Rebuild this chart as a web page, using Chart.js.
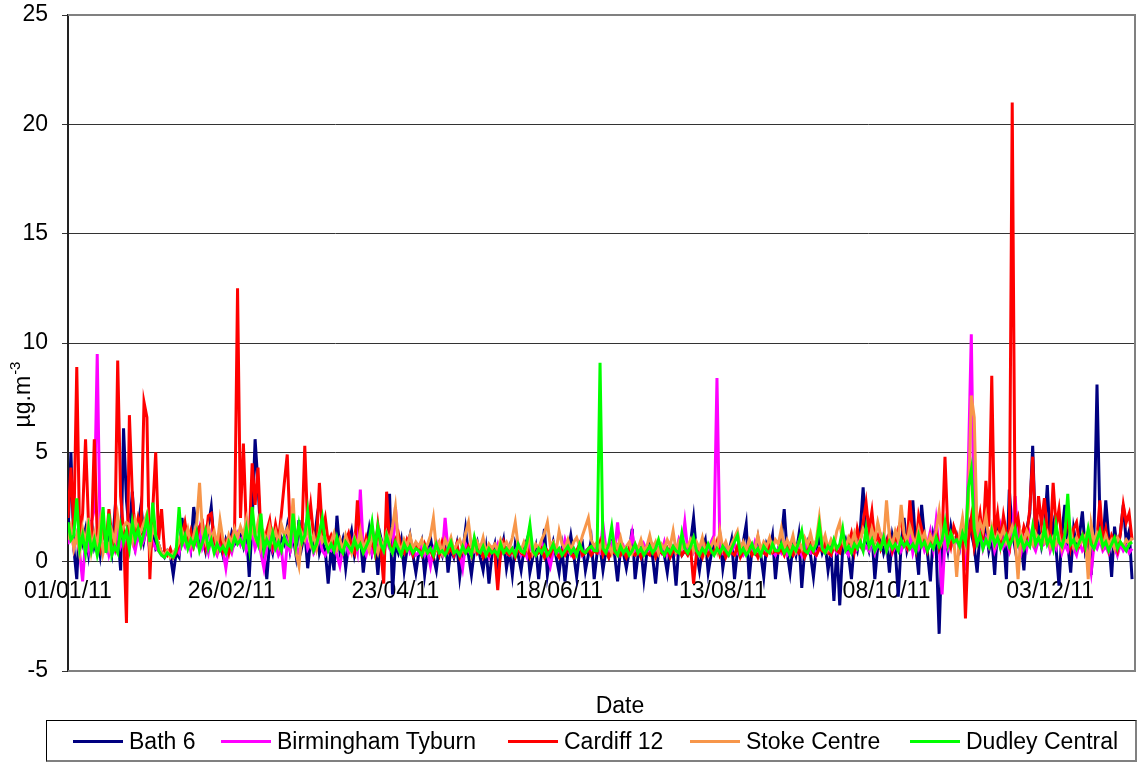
<!DOCTYPE html>
<html>
<head>
<meta charset="utf-8">
<title>Daily concentrations 2011</title>
<script src="https://cdn.jsdelivr.net/npm/chart.js@4.4.1/dist/chart.umd.min.js"></script>
<style>
  body { margin: 0; background: #fff; }
  #wrap { position: relative; width: 1137px; height: 765px; font-family: Arial, "Liberation Sans", sans-serif; }
  #chart { display: block; }
  #legend { position: absolute; left: 46px; top: 720px; width: 1091px; height: 42px;
            border: 1px solid #000; border-right: 2px solid #808080; border-bottom: 2px solid #808080; box-sizing: border-box; }
  .item { position: absolute; top: 0; height: 40px; display: flex; align-items: center; font-size: 23px; color: #000; white-space: nowrap; }
  .item span.swatch { display: inline-block; width: 50px; height: 3px; margin-right: 6px; }
</style>
</head>
<body>
<div id="wrap">
  <canvas id="chart" width="1137" height="765"></canvas>
  <div id="legend"></div>
</div>
<script>
// x axis: days since 01/01/11
const tickDays = [0, 56, 112, 168, 224, 280, 336];
const tickLabels = ['01/01/11', '26/02/11', '23/04/11', '18/06/11', '13/08/11', '08/10/11', '03/12/11'];
const seriesNames = ['Bath 6', 'Birmingham Tyburn', 'Cardiff 12', 'Stoke Centre', 'Dudley Central'];
const seriesColors = ['#000080', '#ff00ff', '#ff0000', '#f7964a', '#00ff00'];

// daily values, one line per month (Jan..Dec)
const bath6 = [
  1.2, 5.0, 0.6, -0.8, 2.0, 0.9, 1.5, 0.4, 1.9, 0.7, 1.2, 0.3, 1.6, 0.8, 1.1, 0.4, 2.2, 1.4, -0.4, 6.1, 2.8, 1.3, 3.2, 0.9, 1.7, 2.6, 1.0, 1.8, 0.5, 1.4, 0.6,
  0.8, 0.4, 0.2, 0.5, 0.3, -0.6, 0.4, 0.2, 2.0, 0.9, 1.2, 0.6, 2.5, 1.4, 0.7, 1.1, 0.5, 1.6, 2.5, 0.8, 0.4, 0.9, 0.3, 1.0, 0.6, 1.3, 0.8, 1.0,
  1.2, 0.7, 1.5, -0.7, 1.8, 5.6, 3.5, 1.0, 0.5, -0.8, 0.9, 0.4, 1.3, 0.6, 1.1, 0.8, 1.6, 0.5, 1.2, 0.3, 1.9, 0.7, 1.4, -0.3, 1.0, 0.6, 1.8, 0.4, 0.9, 0.5, -1.0,
  0.6, -0.4, 2.1, 0.5, 1.0, -0.3, 0.8, 1.4, 0.3, 0.9, 1.2, -0.5, 0.7, 1.5, 0.4, 0.9, -0.6, 1.1, 0.5, 1.3, 3.1, -1.5, 0.8, 0.4, 1.0, -0.4, 0.6, 1.2, 0.3, -0.5,
  0.4, 0.9, -0.6, 0.5, 1.1, 0.2, -0.4, 0.7, 0.3, 1.3, -0.5, 0.6, 0.2, 0.8, -0.7, 0.4, 1.5, 0.3, -0.6, 0.5, 0.9, 0.2, -0.4, 0.6, -1.0, 0.3, 0.8, -0.5, 0.4, 1.0, -0.3,
  0.5, -0.6, 0.8, 0.3, -0.4, 0.6, 1.0, -0.5, 0.2, 0.7, -0.8, 0.4, 1.5, -0.6, 0.3, 0.9, 0.2, -0.5, 0.6, -0.9, 0.4, 1.2, 0.3, -0.7, 0.5, 0.8, -0.4, 0.3, 1.0, -0.8,
  0.4, 0.7, -0.4, 0.5, 0.2, 0.8, 0.3, -0.9, 0.6, 0.4, -0.3, 0.5, 1.5, -0.8, 0.3, 0.6, -0.8, 0.4, 0.9, 0.2, -1.0, 0.5, 0.7, 0.3, -0.5, 0.6, 0.4, -1.1, 0.8, 0.3, 0.5,
  0.5, 0.9, 2.0, 0.4, -0.4, 0.6, 1.0, -0.5, 0.3, 0.8, 0.5, 1.2, -0.3, 0.6, 0.4, 1.0, -0.8, 0.5, 0.3, 0.9, 1.7, -0.8, 0.6, 0.4, 1.1, 0.3, -0.7, 0.8, 0.5, 1.2, -0.8,
  0.6, 1.0, 2.4, 0.4, -0.5, 0.8, 0.3, 1.2, -1.2, 0.5, 0.9, 0.3, -0.7, 0.6, 1.1, 0.4, 0.8, -0.4, 0.5, -1.8, 0.7, -2.0, 0.6, 1.0, 0.3, -0.8, 0.9, 0.5, 1.4, 3.4,
  1.0, 0.5, 1.3, -0.8, 0.7, 1.1, 0.4, 0.9, -0.5, 1.2, 0.6, -1.6, 0.8, 2.0, 0.5, 1.0, 2.8, 0.7, -0.6, 2.6, 1.1, 0.4, -0.9, 1.2, 0.6, -3.3, 0.9, 1.3, 0.5, 1.6, 0.8,
  1.2, 0.6, 1.5, 0.8, 1.9, 1.3, 0.7, -0.5, 1.4, 0.9, 1.7, 0.5, 1.1, -0.6, 1.6, 0.8, 1.2, -0.8, 3.3, 1.4, 0.6, 1.8, 0.9, -0.4, 1.5, 2.2, 5.3, 1.0, 1.6, 0.7,
  1.4, 3.5, 0.9, 1.7, 0.6, -1.1, 1.3, 2.6, 0.8, -0.5, 1.5, 0.7, 1.2, 2.3, 0.5, 1.0, -0.6, 1.4, 8.1, 1.9, 0.7, 2.8, 1.1, -0.7, 1.6, 0.5, 1.3, 2.6, 0.9, 1.4, -0.8
];
const birminghamTyburn = [
  0.8, 1.5, 0.6, 1.2, 0.4, -0.9, 1.0, 0.5, 1.8, 2.4, 9.5, 1.2, 0.6, 1.0, 0.3, 0.8, 0.5, 1.4, 0.7, 1.1, 0.4, 1.6, 0.9, 0.5, 1.3, 0.7, 1.0, 1.8, 0.4, 0.9, 0.6,
  0.5, 0.3, 0.2, 0.4, 0.3, 0.2, 0.6, 0.4, 1.0, 0.7, 1.3, 0.5, 1.1, 0.8, 1.5, 0.6, 0.9, 0.4, 1.2, 0.6, 0.3, 0.8, 0.5, -0.3, 0.7, 0.4, 1.0, 1.3,
  0.8, 1.2, 0.5, 0.9, 1.4, 0.6, 1.0, 0.4, -0.3, 0.7, 1.1, 0.5, 0.8, 0.3, 0.6, -0.8, 0.9, 0.5, 1.2, 0.7, 0.4, 1.0, 1.5, 0.6, 0.9, 0.4, 0.7, 1.1, 0.5, 0.3, 0.6,
  0.5, 0.8, 0.3, -0.2, 0.6, 1.0, 0.4, 0.7, 1.2, 0.5, 3.3, 0.6, 0.3, 0.9, 0.4, 1.1, 0.5, 0.8, 0.3, 1.0, 0.6, 0.4, 2.5, 0.7, 0.3, 0.5, 0.9, 0.4, 0.6, 0.3,
  0.4, 0.7, 0.3, 0.5, -0.2, 0.6, 0.9, 0.4, 0.3, 2.0, 0.5, 0.7, 0.3, 0.6, 0.4, -0.3, 0.8, 0.5, 0.3, 0.6, 0.4, 0.7, 0.3, 0.5, 0.2, 0.6, 0.4, 0.8, 0.3, 0.5, 0.4,
  0.3, 0.6, 0.4, 0.8, 0.3, 0.5, 0.2, 0.7, 0.4, 0.3, 0.6, 0.9, 0.4, 0.3, -0.2, 0.5, 0.7, 0.3, 0.4, 1.0, 0.5, 0.3, 0.6, 0.4, 0.8, 0.3, 0.5, 0.6, 0.4, 0.7,
  0.5, 0.4, 1.7, 0.6, 0.3, 0.8, 0.5, 1.8, 0.4, 0.7, 0.3, 0.5, 1.3, 0.4, 0.6, 0.3, 0.8, 0.5, 0.4, 0.7, 0.3, 0.6, 0.4, 0.9, 0.3, 0.5, 0.7, 0.4, 1.0, 0.6, 1.8,
  0.5, 0.8, 0.4, 0.6, 0.3, 0.7, 0.5, 0.4, 0.9, 1.2, 8.4, 0.6, 0.4, 0.7, 0.3, 0.5, 0.8, 0.4, 0.6, 0.3, 0.5, 0.7, 0.4, 0.9, 0.5, 0.3, 0.6, 0.4, 0.8, 0.5, 0.3,
  0.6, 0.4, 0.8, 0.3, 0.5, 0.7, 0.4, 0.6, 0.3, 0.9, 0.5, 0.4, 0.7, 0.3, 0.6, 0.8, 0.4, 0.5, 0.3, 0.7, 0.4, 0.6, 0.9, 0.5, 0.3, 0.7, 0.4, 0.6, 0.8, 0.5,
  0.7, 0.5, 1.0, 0.4, 0.8, 0.6, 1.2, 0.5, 0.9, 0.4, 0.7, 1.1, 0.5, 0.8, 0.6, 1.3, 0.4, 0.9, 0.6, 1.0, 0.5, 0.8, 1.4, 0.6, 1.9, 0.7, -1.5, 1.0, 0.6, 1.2, 0.8,
  1.0, 0.6, 1.4, -0.4, 4.5, 10.4, 1.2, 0.8, 1.5, 0.6, 1.1, 0.7, 1.3, 0.5, 0.9, 1.6, 0.7, 1.0, 0.5, 1.2, 3.0, 0.8, 0.4, 1.1, 0.6, 1.3, 0.8, 0.5, 1.0, 0.7,
  0.8, 1.2, 0.5, 0.9, 0.6, 1.1, 0.4, 0.8, 0.5, 1.0, 0.6, 0.3, 0.9, 0.5, 0.7, 0.4, -0.5, 0.8, 0.6, 1.0, 0.5, 0.7, 0.4, 0.9, 0.6, 0.3, 0.8, 0.5, 0.7, 0.4, 0.6
];
const cardiff12 = [
  2.0, 4.3, 1.5, 8.9, 1.0, 2.2, 5.6, 1.8, 0.9, 5.6, 1.2, 0.6, 1.5, 0.8, 2.4, 1.1, 0.7, 9.2, 3.0, 1.4, -2.8, 6.7, 3.1, 1.2, 2.0, 1.5, 7.3, 6.6, -0.8, 2.4, 5.0,
  1.0, 2.4, 0.5, 0.3, 0.6, 0.2, 0.4, 0.8, 1.2, 1.8, 0.9, 1.4, 0.7, 1.1, 1.6, 1.8, 0.8, 2.1, 2.2, 1.0, 0.6, 1.3, 0.5, 0.9, 0.4, 1.1, 1.5, 12.5,
  2.0, 5.4, 1.5, 1.0, 4.5, 2.6, 4.3, 1.2, 0.7, 1.4, 1.9, 0.8, 1.7, 1.0, 2.2, 3.6, 4.9, 1.3, 2.0, 0.9, 1.6, 1.1, 5.3, 1.5, 2.6, 1.2, 0.8, 3.6, 1.4, 2.0, 0.9,
  1.2, 0.8, 0.6, 1.0, 0.5, 0.9, 1.3, 0.7, 0.4, 2.8, 0.8, 0.5, 1.1, 0.6, 0.9, 0.4, 1.7, 0.6, -1.0, 3.2, 0.8, 0.5, 1.0, 1.3, 0.6, 0.4, 1.0, 0.7, 0.3, 0.8,
  0.6, 0.3, 0.8, 0.4, 0.5, 0.2, 0.7, 0.3, 0.9, 0.5, 0.4, 0.6, 0.3, 0.8, 0.2, 0.5, 0.4, 0.7, 0.3, 1.0, 0.4, 0.6, 0.2, 0.5, 0.3, 0.6, 0.4, -1.3, 0.5, 0.9, 0.4,
  0.3, 0.5, 0.2, 0.6, 0.4, 0.3, 0.7, 0.2, 0.5, 0.3, 0.4, 0.6, 0.2, 0.5, 0.3, 0.7, 0.4, 0.2, 0.5, 0.3, 0.6, 0.4, 0.2, 0.5, 0.8, 0.3, 0.4, 0.6, 0.3, 0.5,
  0.4, 0.9, 0.3, 0.6, 0.2, 0.5, 0.4, 0.7, 0.3, 0.5, 0.2, 0.6, 0.4, 0.3, 0.5, 0.2, 0.6, 0.4, 0.3, 0.7, 0.2, 0.5, 0.4, 0.3, 0.6, 0.2, 0.5, 0.4, 0.7, 0.3, 0.5,
  0.3, 0.6, -1.0, 0.4, 0.5, 0.2, 0.7, 0.3, 0.5, 0.4, 0.9, 0.3, 0.6, 0.2, 0.5, 0.4, 0.3, 0.7, 0.2, 0.5, 0.4, 0.6, 0.3, 0.5, 0.2, 0.6, 0.4, 0.3, 0.8, 0.4, 0.5,
  0.4, 0.6, 0.3, 0.8, 0.5, 0.3, 0.7, 0.4, 0.6, 0.2, 0.5, 0.8, 0.4, 0.3, 0.6, 0.5, 0.9, 0.4, 0.3, 0.7, 0.5, 0.4, 1.0, 0.6, 0.8, 1.3, 0.5, 1.5, 0.9, 1.8,
  2.7, 1.4, 2.3, 0.9, 1.2, 0.6, 1.0, 0.8, 1.3, 0.5, 0.9, 1.5, 1.9, 1.1, 0.7, 2.8, 1.2, 0.6, 2.1, 1.5, 0.9, 0.5, 1.2, 0.8, 1.4, 0.6, 1.0, 4.8, 1.3, 0.7, 1.6,
  1.2, 0.8, 1.5, -2.6, 1.0, 2.0, 0.7, 1.4, 2.2, 1.0, 3.7, 1.6, 8.5, 1.2, 2.2, 0.9, 2.1, 1.3, 0.8, 21.0, 1.5, 2.0, 0.9, 1.6, 1.2, 2.4, 4.8, 1.1, 3.0, 1.7,
  2.9, 1.4, 1.0, 3.6, 1.6, 2.4, 0.9, 1.3, 2.0, 0.7, 1.5, 1.8, 0.8, 1.2, 0.6, 1.0, 1.4, 0.7, 1.1, 2.8, 0.9, 1.5, 0.6, 1.2, 0.9, 0.5, 1.3, 2.6, 1.8, 2.2, 1.0
];
const stokeCentre = [
  1.0, 1.6, 0.6, 1.2, 0.4, 1.5, 0.8, 2.0, 0.5, 1.3, 0.7, 1.8, 0.4, 1.0, 0.6, 1.4, 0.9, 2.1, 1.2, 1.6, 1.8, 1.7, 1.0, 1.9, 1.5, 1.4, 1.8, 2.2, 0.6, 1.5, 1.2,
  0.8, 0.4, 0.3, 0.5, 0.2, 0.4, 0.6, 0.9, 1.4, 1.0, 1.5, 0.8, 1.2, 1.7, 3.6, 1.3, 0.9, 1.6, 1.1, 1.4, 0.7, 1.9, 1.0, 0.6, 1.2, 0.8, 1.5, 1.1,
  1.6, 1.2, 1.9, 0.9, 1.5, 1.1, 1.8, 0.7, 1.3, 0.9, 1.6, 1.0, 1.4, 0.8, 1.7, 1.2, 1.5, 0.9, 2.9, 0.4, -0.2, 1.3, 1.0, 1.6, 0.8, 1.2, 0.6, 1.4, 0.9, 1.1, 0.7,
  0.9, 1.3, 0.6, 1.0, 0.5, 1.2, 0.8, 0.4, 1.1, 0.7, 1.4, 0.6, 0.9, 0.5, 1.2, 0.8, 0.4, 1.0, 0.6, 1.3, 0.9, 1.6, 2.5, 0.8, 0.5, 1.0, 0.7, 1.2, 0.6, 0.9,
  0.7, 1.0, 0.5, 0.8, 1.2, 2.0, 0.6, 0.9, 0.4, 1.0, 0.7, 1.1, 0.5, 0.8, 1.0, 0.6, 1.3, 1.8, 0.7, 0.5, 0.9, 0.6, 1.1, 0.4, 0.8, 0.6, 0.8, 0.5, 1.0, 0.7, 0.9,
  0.6, 1.1, 1.8, 0.7, 0.5, 0.9, 0.6, 1.2, 0.4, 0.8, 0.6, 1.0, 1.3, 1.8, 0.7, 0.9, 0.5, 1.4, 0.8, 0.6, 1.0, 0.5, 0.9, 1.1, 0.7, 1.2, 1.6, 2.0, 1.0, 0.7,
  0.9, 0.6, 1.0, 0.5, 0.8, 0.4, 0.9, 0.6, 1.1, 0.5, 0.7, 0.9, 0.4, 0.8, 0.6, 1.0, 0.5, 0.7, 1.2, 0.6, 0.9, 0.4, 0.8, 0.6, 1.0, 0.7, 1.4, 0.5, 0.9, 0.6, 0.8,
  0.7, 1.0, 0.5, 0.9, 0.6, 1.1, 0.4, 0.8, 0.7, 1.0, 0.5, 1.4, 0.6, 0.9, 0.5, 0.8, 1.1, 1.4, 0.6, 0.9, 0.5, 1.0, 0.7, 0.6, 1.2, 0.5, 0.9, 0.7, 1.1, 0.6, 1.0,
  0.8, 1.5, 0.6, 1.0, 0.7, 1.2, 0.5, 0.9, 0.6, 1.1, 0.8, 1.3, 0.7, 1.0, 2.0, 0.8, 1.2, 0.6, 1.0, 0.7, 1.4, 1.8, 0.9, 0.6, 1.1, 0.8, 1.3, 0.7, 1.0, 1.5,
  1.2, 0.8, 1.5, 1.0, 1.8, 1.2, 0.9, 2.8, 1.1, 0.8, 1.4, 1.0, 2.6, 1.3, 0.9, 1.6, 1.1, 0.8, 1.5, 1.0, 1.3, 0.7, 1.2, 0.9, 1.4, 2.3, 1.0, 1.6, 0.8, 1.3, 1.1,
  -0.7, 1.2, 2.0, 0.9, 2.5, 7.6, 6.6, 1.3, 1.8, 1.4, 2.1, 1.0, 1.6, 0.8, 1.3, 1.1, 1.5, 0.9, 1.2, 1.6, 1.0, -0.8, 1.3, 0.9, 1.4, 1.1, 0.8, 1.3, 1.0, 1.2,
  0.9, 1.3, 0.7, 1.1, 0.8, 1.2, 0.6, 1.0, 0.9, 1.4, 0.7, 1.1, 0.8, 1.0, 1.2, -0.8, 1.7, 0.9, 1.3, 1.0, 0.7, 1.2, 0.8, 1.0, 0.6, 1.1, 0.9, 0.7, 1.0, 0.8, 1.1
];
const dudleyCentral = [
  1.8, 1.0, 1.2, 2.9, 0.6, 1.2, 0.4, 1.5, 0.5, 1.0, 0.3, 0.9, 2.5, 0.4, 2.2, 0.3, 0.7, 0.4, 1.6, 0.9, 1.4, 0.6, 1.8, 1.0, 1.5, 0.8, 1.3, 2.0, 0.9, 2.7, 1.2,
  0.5, 0.3, 0.2, 0.4, 0.3, 0.2, 0.5, 2.5, 0.8, 1.2, 0.6, 1.0, 0.7, 1.3, 0.5, 0.9, 1.4, 0.6, 1.0, 0.4, 0.8, 0.5, 0.7, 0.4, 0.9, 0.6, 1.1, 0.8,
  1.0, 0.7, 1.5, 0.6, 2.5, 1.2, 0.8, 2.2, 0.5, 1.0, 0.7, 1.3, 0.6, 0.9, 0.5, 1.1, 0.8, 0.7, 2.2, 0.8, 1.7, 0.9, 1.2, 2.3, 1.0, 0.5, 0.8, 1.3, 2.0, 0.9, 0.5,
  0.8, 0.5, 1.1, 0.6, 0.4, 0.9, 0.7, 0.5, 1.0, 0.6, 0.8, 0.4, 0.7, 1.0, 1.8, 0.6, 1.6, 0.8, 0.5, 1.2, 0.7, 0.4, 0.9, 0.6, 0.3, 0.8, 0.5, 0.7, 0.4, 0.6,
  0.5, 0.3, 0.7, 0.4, 0.6, 0.3, 0.8, 0.4, 0.5, 0.3, 0.6, 0.9, 0.4, 0.5, 0.3, 0.7, 0.4, 0.6, 0.3, 1.1, 0.5, 0.4, 0.7, 0.3, 0.6, 0.4, 0.5, 0.3, 0.8, 0.4, 0.6,
  0.4, 0.6, 0.3, 0.8, 0.5, 0.4, 0.9, 1.7, 0.5, 0.3, 0.6, 0.4, 0.7, 0.3, 0.5, 0.8, 0.4, 0.6, 0.3, 0.5, 0.7, 0.4, 0.6, 0.3, 0.8, 0.5, 0.4, 0.6, 0.7, 0.5,
  0.5, 9.1, 0.6, 0.4, 0.8, 1.6, 0.5, 0.3, 0.7, 0.4, 0.6, 0.3, 0.5, 0.8, 0.4, 0.6, 0.3, 0.5, 0.7, 0.4, 0.6, 1.0, 0.5, 0.3, 0.6, 0.4, 0.7, 0.5, 0.4, 1.3, 0.6,
  0.4, 0.7, 1.1, 0.5, 0.3, 0.6, 0.4, 0.8, 0.5, 0.3, 0.6, 0.4, 0.7, 0.5, 0.3, 0.6, 0.9, 1.2, 0.4, 0.6, 0.3, 0.5, 0.8, 0.4, 0.6, 0.3, 0.7, 0.5, 0.4, 0.8, 0.5,
  0.5, 0.8, 0.4, 0.6, 0.3, 0.7, 0.5, 0.9, 1.4, 0.5, 0.4, 0.7, 0.5, 0.8, 1.7, 0.6, 0.4, 0.7, 0.5, 1.0, 0.6, 0.8, 1.5, 0.5, 0.7, 0.4, 0.8, 0.6, 0.9, 0.5,
  1.5, 0.7, 1.0, 0.5, 0.8, 0.6, 1.1, 0.5, 0.9, 0.6, 0.8, 0.5, 1.0, 0.7, 0.9, 0.6, 0.8, 0.5, 1.2, 0.7, 0.9, 0.5, 0.8, 0.6, 1.1, 0.7, 1.0, 1.8, 0.8, 1.3, 0.9,
  1.0, 0.7, 1.3, 0.9, 3.4, 4.2, 1.5, 0.8, 1.2, 0.6, 1.0, 0.7, 1.4, 0.8, 1.1, 0.6, 0.9, 1.2, 0.7, 1.0, 1.5, 0.8, 1.1, 0.6, 0.9, 0.7, 1.6, 0.8, 1.1, 0.7,
  1.6, 0.8, 1.1, 0.6, 1.7, 0.9, 0.7, 1.2, 3.1, 0.8, 1.0, 0.6, 0.9, 1.2, 0.7, 1.5, 0.8, 0.6, 1.0, 1.4, 0.7, 0.9, 0.5, 0.8, 1.1, 0.6, 0.9, 0.7, 0.5, 0.8, 0.9
];

const allSeries = [bath6, birminghamTyburn, cardiff12, stokeCentre, dudleyCentral];
const dayIndex = bath6.map((v, i) => i);
const FONT = 'Arial, "Liberation Sans", sans-serif';

// plot frame + axis titles
const decorPlugin = {
  id: 'decor',
  afterDraw(chart) {
    const { ctx, chartArea: a } = chart;
    ctx.save();
    ctx.strokeStyle = '#808080';
    ctx.lineWidth = 2;
    ctx.beginPath();
    ctx.moveTo(a.left, a.top);
    ctx.lineTo(a.right, a.top);
    ctx.lineTo(a.right, a.bottom);
    ctx.lineTo(a.left, a.bottom);
    ctx.stroke();

    ctx.fillStyle = '#000';
    ctx.font = '23px ' + FONT;
    ctx.textAlign = 'center';
    ctx.textBaseline = 'middle';
    ctx.fillText('Date', 620, 707);

    // y title, rotated, with superscript
    ctx.translate(30, 395);
    ctx.rotate(-Math.PI / 2);
    ctx.textAlign = 'left';
    ctx.textBaseline = 'alphabetic';
    ctx.font = '23px ' + FONT;
    const main = 'µg.m';
    const wMain = ctx.measureText(main).width;
    ctx.font = '15px ' + FONT;
    const wSup = ctx.measureText('-3').width;
    const x0 = -(wMain + wSup) / 2;
    ctx.font = '23px ' + FONT;
    ctx.fillText(main, x0, 0);
    ctx.font = '15px ' + FONT;
    ctx.fillText('-3', x0 + wMain + 1, -10);
    ctx.restore();
  }
};

new Chart(document.getElementById('chart'), {
  type: 'line',
  data: {
    labels: dayIndex,
    datasets: allSeries.map((d, i) => ({
      label: seriesNames[i],
      data: d,
      borderColor: seriesColors[i],
      backgroundColor: seriesColors[i],
      borderWidth: 3,
      pointRadius: 0,
      tension: 0,
      fill: false,
      order: allSeries.length - i
    }))
  },
  options: {
    responsive: false,
    animation: false,
    layout: { padding: { left: 0, right: 2, top: 15, bottom: 94 } },
    plugins: { legend: { display: false }, tooltip: { enabled: false } },
    scales: {
      x: {
        type: 'linear',
        min: 0,
        max: 365,
        position: { y: 0 },
        grid: { display: false, drawTicks: false },
        border: { display: false },
        afterBuildTicks: s => { s.ticks = tickDays.map(v => ({ value: v })); },
        ticks: {
          autoSkip: false,
          maxRotation: 0,
          padding: 16,
          color: '#000',
          font: { family: FONT, size: 23 },
          callback: (v, i) => tickLabels[i]
        }
      },
      y: {
        min: -5,
        max: 25,
        afterFit: s => { s.width = 68; s.paddingTop = 0; s.paddingBottom = 0; },
        ticks: { stepSize: 5, padding: 14, color: '#000', font: { family: FONT, size: 23 } },
        grid: {
          color: c => (c.tick && (c.tick.value === 25 || c.tick.value === -5)) ? '#808080' : '#333',
          lineWidth: 1,
          tickLength: 6,
          tickColor: '#333'
        },
        border: { color: '#222', width: 2 }
      }
    }
  },
  plugins: [decorPlugin]
});

// legend
const legendLefts = [26, 174, 461, 643, 863];
const legend = document.getElementById('legend');
seriesNames.forEach((name, i) => {
  const item = document.createElement('div');
  item.className = 'item';
  item.style.left = legendLefts[i] + 'px';
  item.innerHTML = '<span class="swatch" style="background:' + seriesColors[i] + '"></span>' + name;
  legend.appendChild(item);
});
</script>
</body>
</html>
